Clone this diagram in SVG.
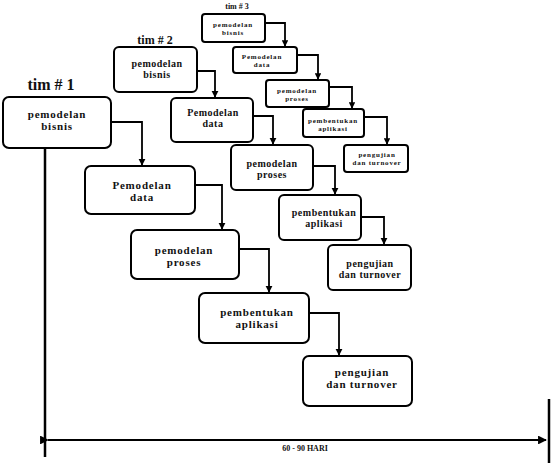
<svg xmlns="http://www.w3.org/2000/svg" width="556" height="471" viewBox="0 0 556 471">
  <defs>
    <style>
      .box { fill: #fff; stroke: #000; stroke-width: 2; }
      .con { fill: none; stroke: #000; stroke-width: 1.8; }
      text { font-family: 'Liberation Serif', 'DejaVu Serif', serif; font-weight: bold; fill: #111; text-anchor: middle; }
      .t1 { font-size: 11px; letter-spacing: 0.8px; }
      .t2 { font-size: 10px; letter-spacing: 0.5px; }
      .t3 { font-size: 7px; letter-spacing: 0.8px; }
    </style>
    <marker id="ah" viewBox="0 0 10 10" refX="9" refY="5" markerWidth="4" markerHeight="4" orient="auto">
      <path d="M0,0 L10,5 L0,10 z" fill="#000"/>
    </marker>
    <marker id="ahs" viewBox="0 0 10 10" refX="9" refY="5" markerWidth="3.5" markerHeight="3.5" orient="auto">
      <path d="M0,0 L10,5 L0,10 z" fill="#000"/>
    </marker>
  </defs>

  <rect width="556" height="471" fill="#fff"/>

  <!-- team labels -->
  <text x="51" y="90" font-size="16" font-family="Liberation Serif, serif">tim # 1</text>
  <text x="155" y="44" font-size="12" font-family="Liberation Serif, serif">tim # 2</text>
  <text x="237" y="9" font-size="8" font-family="Liberation Serif, serif">tim # 3</text>

  <!-- connectors -->
  <g id="connectors">
    <!-- team 1 -->
    <path class="con" d="M111,122 H142 V165" marker-end="url(#ah)"/>
    <path class="con" d="M195,185 H222 V229" marker-end="url(#ah)"/>
    <path class="con" d="M239,249 H269 V292" marker-end="url(#ah)"/>
    <path class="con" d="M309,313 H339 V355" marker-end="url(#ah)"/>
    <!-- team 2 -->
    <path class="con" d="M197,71 H215 V97" marker-end="url(#ah)"/>
    <path class="con" d="M253,116 H273 V144" marker-end="url(#ah)"/>
    <path class="con" d="M313,166 H335 V194" marker-end="url(#ah)"/>
    <path class="con" d="M361,217 H384 V244" marker-end="url(#ah)"/>
    <!-- team 3 -->
    <path class="con" d="M265,23 H285 V46" marker-end="url(#ahs)"/>
    <path class="con" d="M297,55 H318 V79" marker-end="url(#ahs)"/>
    <path class="con" d="M329,87 H352 V108" marker-end="url(#ahs)"/>
    <path class="con" d="M364,117 H387 V144" marker-end="url(#ahs)"/>
    <!-- timeline -->
    <line class="con" x1="45" y1="147" x2="45" y2="457" style="stroke-width:2.5"/>
    <line class="con" x1="549" y1="399" x2="549" y2="463" style="stroke-width:2.5"/>
    <line class="con" x1="48" y1="440" x2="546" y2="440" marker-start="url(#ah)" marker-end="url(#ah)" style="stroke-width:2.2"/>
  </g>

  <!-- team 1 -->
  <g id="t1-bisnis">
    <rect class="box" x="3" y="97" width="108" height="51" rx="6"/>
    <text class="t1" x="57" y="118" font-family="Liberation Serif, serif">pemodelan</text>
    <text class="t1" x="57" y="130" font-family="Liberation Serif, serif">bisnis</text>
  </g>
  <g id="t1-data">
    <rect class="box" x="85" y="166" width="110" height="48" rx="6"/>
    <text class="t1" x="142" y="189" font-family="Liberation Serif, serif">Pemodelan</text>
    <text class="t1" x="142" y="201" font-family="Liberation Serif, serif">data</text>
  </g>
  <g id="t1-proses">
    <rect class="box" x="131" y="230" width="108" height="49" rx="6"/>
    <text class="t1" x="184" y="254" font-family="Liberation Serif, serif">pemodelan</text>
    <text class="t1" x="184" y="266" font-family="Liberation Serif, serif">proses</text>
  </g>
  <g id="t1-aplikasi">
    <rect class="box" x="199" y="293" width="110" height="50" rx="6"/>
    <text class="t1" x="257" y="316" font-family="Liberation Serif, serif">pembentukan</text>
    <text class="t1" x="257" y="328" font-family="Liberation Serif, serif">aplikasi</text>
  </g>
  <g id="t1-turnover">
    <rect class="box" x="303" y="356" width="109" height="50" rx="6"/>
    <text class="t1" x="362" y="376" font-family="Liberation Serif, serif">pengujian</text>
    <text class="t1" x="362" y="388" font-family="Liberation Serif, serif">dan turnover</text>
  </g>

  <!-- team 2 -->
  <g id="t2-bisnis">
    <rect class="box" x="114" y="47" width="83" height="45" rx="5"/>
    <text class="t2" x="157" y="67" font-family="Liberation Serif, serif">pemodelan</text>
    <text class="t2" x="157" y="78" font-family="Liberation Serif, serif">bisnis</text>
  </g>
  <g id="t2-data">
    <rect class="box" x="171" y="98" width="82" height="44" rx="5"/>
    <text class="t2" x="213" y="116" font-family="Liberation Serif, serif">Pemodelan</text>
    <text class="t2" x="213" y="127" font-family="Liberation Serif, serif">data</text>
  </g>
  <g id="t2-proses">
    <rect class="box" x="231" y="145" width="82" height="45" rx="5"/>
    <text class="t2" x="272" y="167" font-family="Liberation Serif, serif">pemodelan</text>
    <text class="t2" x="272" y="178" font-family="Liberation Serif, serif">proses</text>
  </g>
  <g id="t2-aplikasi">
    <rect class="box" x="279" y="195" width="82" height="45" rx="5"/>
    <text class="t2" x="324" y="216" font-family="Liberation Serif, serif">pembentukan</text>
    <text class="t2" x="324" y="227" font-family="Liberation Serif, serif">aplikasi</text>
  </g>
  <g id="t2-turnover">
    <rect class="box" x="328" y="245" width="83" height="45" rx="5"/>
    <text class="t2" x="370" y="267" font-family="Liberation Serif, serif">pengujian</text>
    <text class="t2" x="370" y="278" font-family="Liberation Serif, serif">dan turnover</text>
  </g>

  <!-- team 3 -->
  <g id="t3-bisnis">
    <rect class="box" x="202" y="14" width="63" height="28" rx="3"/>
    <text class="t3" x="233" y="27" font-family="Liberation Serif, serif">pemodelan</text>
    <text class="t3" x="233" y="35" font-family="Liberation Serif, serif">bisnis</text>
  </g>
  <g id="t3-data">
    <rect class="box" x="233" y="47" width="64" height="26" rx="3"/>
    <text class="t3" x="262" y="59" font-family="Liberation Serif, serif">Pemodelan</text>
    <text class="t3" x="262" y="67" font-family="Liberation Serif, serif">data</text>
  </g>
  <g id="t3-proses">
    <rect class="box" x="266" y="80" width="63" height="27" rx="3"/>
    <text class="t3" x="297" y="93" font-family="Liberation Serif, serif">pemodelan</text>
    <text class="t3" x="297" y="101" font-family="Liberation Serif, serif">proses</text>
  </g>
  <g id="t3-aplikasi">
    <rect class="box" x="303" y="109" width="61" height="28" rx="3"/>
    <text class="t3" x="333" y="123" font-family="Liberation Serif, serif">pembentukan</text>
    <text class="t3" x="333" y="131" font-family="Liberation Serif, serif">aplikasi</text>
  </g>
  <g id="t3-turnover">
    <rect class="box" x="344" y="145" width="64" height="27" rx="3"/>
    <text class="t3" x="377" y="157" font-family="Liberation Serif, serif">pengujian</text>
    <text class="t3" x="377" y="165" font-family="Liberation Serif, serif">dan turnover</text>
  </g>

  <!-- duration label -->
  <text x="305" y="451" font-size="8" font-family="Liberation Serif, serif">60 - 90 HARI</text>
</svg>
